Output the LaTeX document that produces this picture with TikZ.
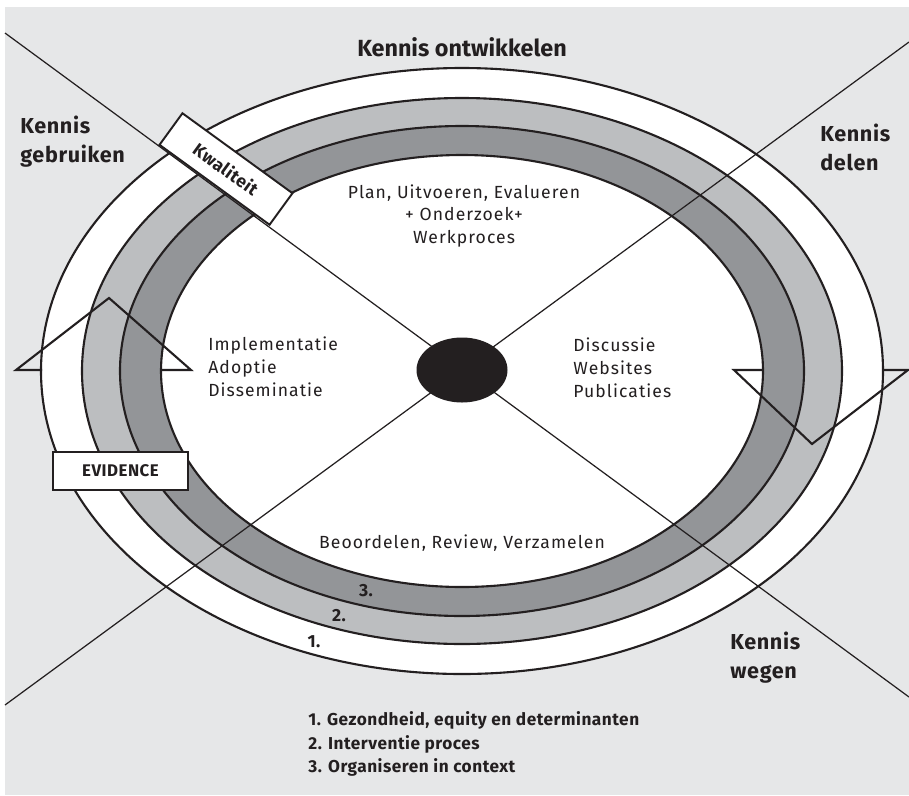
\documentclass[tikz,border=0pt]{standalone}
\usepackage{fontspec}
\setmainfont{Fira Sans}
\newfontfamily\spaced[LetterSpace=6]{Fira Sans}
\newfontfamily\spacedbold[LetterSpace=3,UprightFont=* Bold]{Fira Sans}
\usetikzlibrary{shapes.geometric}
\definecolor{bg}{HTML}{E6E7E8}
\definecolor{ringlight}{HTML}{BCBEC0}
\definecolor{ringdark}{HTML}{939598}
\definecolor{ink}{HTML}{231F20}
\begin{document}
\begin{tikzpicture}[x=0.02cm,y=-0.02cm,
  ring/.style={draw=ink,line width=1.2pt},
  ray/.style={draw=ink,line width=0.7pt},
  tag/.style={draw=ink,fill=white,line width=1.1pt,inner sep=0pt,text=ink},
  corner/.style={font=\spacedbold\fontsize{12.3}{16.5}\selectfont,text=ink,align=left,inner sep=0pt},
  field/.style={font=\spaced\fontsize{10}{13}\selectfont,text=ink,inner sep=0pt},
  num/.style={font=\spacedbold\fontsize{10}{12}\selectfont,text=ink,inner sep=0pt},
  legend/.style={font=\spacedbold\fontsize{9.8}{13.5}\selectfont,text=ink,align=left,inner sep=0pt}]
\useasboundingbox (0,0) rectangle (909,795);
\fill[bg] (5,7) rectangle (909,795);

% concentric rings
\path[ring,fill=white]     (462,371) ellipse [x radius=421, y radius=303];
\path[ring,fill=ringlight] (462,371) ellipse [x radius=380, y radius=273];
\path[ring,fill=ringdark]  (462,371) ellipse [x radius=342, y radius=245];
\path[ring,fill=white]     (462,371) ellipse [x radius=301, y radius=216];

% triangles crossing the rings
\draw[ring,line join=miter] (42,370) -- (16,370) -- (109,298) -- (191,370) -- (162,370);
\draw[ring,line join=miter] (763,370) -- (734,370) -- (812,444) -- (908,370) -- (884,370);

% the two axes through the centre
\coordinate (nw) at (5,33);
\coordinate (se) at (909,697);
\coordinate (sw) at (5,705);
\coordinate (ne) at (909,42);
\draw[ray] (nw) -- (se);
\draw[ray] (sw) -- (ne);

\node[ellipse,fill=ink,minimum width=91*0.02cm,minimum height=65*0.02cm,inner sep=0pt] (hub) at (462,370) {};

% labelled boxes on the rings
\node[tag,rotate=-36,minimum width=136*0.02cm,minimum height=39*0.02cm,
  font=\spacedbold\fontsize{10}{12}\selectfont] (quality) at (226,169) {Kwaliteit};
\node[tag,minimum width=135*0.02cm,minimum height=38*0.02cm,
  font=\spacedbold\fontsize{9.6}{11}\selectfont] (evidence) at (120.5,471) {EVIDENCE};

% quadrant labels
\node[font=\bfseries\fontsize{13.3}{15}\selectfont,text=ink,inner sep=0pt] (develop) at (462,47) {Kennis ontwikkelen};
\node[corner,anchor=west] (use) at (20,142) {Kennis\\gebruiken};
\node[corner,anchor=west] (share) at (820,147) {Kennis\\delen};
\node[corner,anchor=west] (weigh) at (730,658) {Kennis\\wegen};

% contents of the inner field
\node[field,align=center] (plan) at (464,216) {Plan, Uitvoeren, Evalueren\\+ Onderzoek+\\Werkproces};
\node[field,align=left,anchor=west] (impl) at (208,367) {Implementatie\\Adoptie\\Disseminatie};
\node[field,align=left,anchor=west] (disc) at (573,368) {Discussie\\Websites\\Publicaties};
\node[field] (review) at (462,543) {Beoordelen, Review, Verzamelen};

% ring numbers
\node[num] (n3) at (366,591) {3.};
\node[num] (n2) at (339,616) {2.};
\node[num] (n1) at (314,642) {1.};

% legend
\node[legend,anchor=west] (key) at (308,744) {1. Gezondheid, equity en determinanten\\2. Interventie proces\\3. Organiseren in context};
\end{tikzpicture}
\end{document}
